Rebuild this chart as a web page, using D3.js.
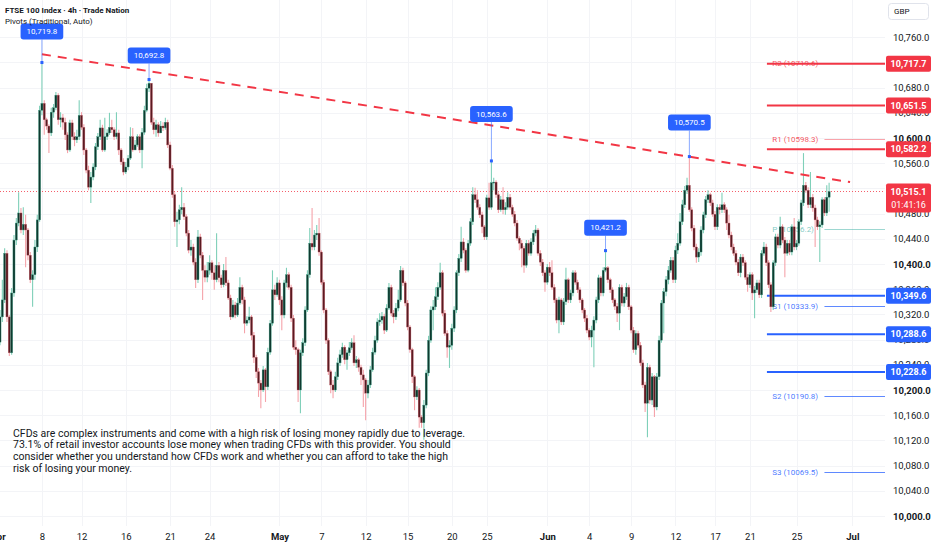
<!DOCTYPE html>
<html>
<head>
<meta charset="utf-8">
<script src="https://cdn.jsdelivr.net/npm/d3@7"></script>
<style>
  body { margin: 0; background: #fff; overflow: hidden; }
  svg { display: block; font-family: Roboto, "Noto Sans", sans-serif; }
</style>
</head>
<body>
<svg id="chart" width="932" height="550"></svg>
<script>
// FTSE 100 4h bars (CFD trades round the clock, so each bar opens where the last one closed)
var firstOpen = 10276;
var closes = [
  10316,10343,10417,10316,10259,10354,10438,10465,10481,10454,
  10463,10454,10414,10375,10383,10427,10470,10644,10655,10629,
  10619,10608,10641,10648,10668,10629,10632,10625,10605,10581,
  10624,10602,10597,10602,10636,10617,10581,10549,10522,10538,
  10554,10586,10602,10616,10581,10602,10608,10617,10613,10602,
  10608,10581,10562,10546,10554,10568,10602,10581,10589,10602,
  10581,10609,10644,10679,10687,10625,10613,10621,10608,10619,
  10616,10625,10589,10552,10510,10467,10470,10486,10490,10475,
  10449,10422,10427,10403,10375,10443,10414,10390,10379,10390,
  10402,10386,
  10375,10398,10378,10367,10390,10370,10346,10316,10335,10319,
  10338,10363,10343,10306,10311,10316,10287,10252,10229,10211,
  10200,10232,10205,10260,10306,10359,10351,10370,10343,10319,
  10370,10383,10363,10314,10268,10264,10200,10259,10275,10327,
  10383,10433,10427,10446,10449,10419,10371,10327,10279,10229,
  10208,10200,10221,10243,10256,10268,10248,10259,10267,10275,
  10243,10248,10236,10224,10216,10195,10208,10232,10260,10279,
  10308,10311,10317,10295,10330,10363,10322,10316,10330,10343,
  10390,10370,10338,10300,10264,10221,10189,10200,10157,10148,
  10176,10227,10279,10327,10332,10348,10363,
  10386,10322,10290,10268,10271,10298,10327,10386,10409,10435,
  10422,10390,10433,10467,10510,10502,10490,10478,10459,10443,
  10505,10490,10529,10530,10510,10486,10502,10486,10490,10506,
  10490,10479,10465,10441,10433,10425,10398,10433,10417,10435,
  10449,10454,10417,10403,10386,10371,10395,10386,10363,10343,
  10311,10343,10308,10340,10375,10343,10354,10386,10371,10359,
  10343,10327,10314,10295,10284,10295,10311,10343,10378,10354,
  10390,10394,10375,10359,10343,10333,10322,10363,10338,10348,
  10363,10332,10295,10264,10290,10271,10243,10208,10179,10236,
  10184,10221,10173,10221,
  10279,10338,10356,10375,10390,10406,10375,10422,10433,10467,
  10494,10517,10525,10486,10457,10427,10411,10419,10454,10478,
  10502,10510,10497,10479,10459,10490,10486,10494,10486,10465,
  10446,10427,10417,10403,10386,10411,10402,10379,10367,10383,
  10354,10359,10370,10351,10417,10427,10402,10367,10332,10402,
  10443,10430,10459,10438,10417,10433,10419,10459,10427,10433,
  10467,10497,10525,10517,10494,10506,10489,10470,10459,10462,
  10502,10481,10506,10515.1
];
var highs = [
  10327,10375,10425,10422,10319,10362,10446,10473,10514,10489,
  10490,10478,10457,10419,10390,10438,10478,10651,10719.8,10660,
  10632,10622,10648,10654,10673,10671,10641,10638,10632,10609,
  10629,10629,10609,10613,10660,10641,10622,10584,10556,10546,
  10560,10592,10608,10629,10621,10632,10614,10640,10629,10617,
  10641,10613,10584,10568,10562,10573,10617,10616,10597,10606,
  10606,10616,10651,10686,10692.8,10640,10632,10629,10625,10627,
  10625,10632,10629,10594,10557,10514,10483,10494,10522,10497,
  10479,10454,10438,10432,10409,10454,10448,10419,10398,10403,
  10414,10406,
  10398,10449,10403,10383,10400,10411,10375,10351,10343,10340,
  10346,10379,10367,10348,10317,10332,10319,10292,10256,10235,
  10216,10238,10235,10267,10311,10390,10367,10379,10375,10349,
  10375,10394,10387,10367,10319,10279,10267,10264,10282,10333,
  10390,10457,10489,10454,10462,10473,10422,10375,10330,10282,
  10232,10216,10229,10251,10264,10275,10271,10264,10276,10282,
  10287,10254,10251,10240,10232,10219,10216,10238,10267,10286,
  10314,10322,10324,10321,10336,10370,10367,10327,10338,10359,
  10397,10394,10373,10343,10303,10267,10224,10206,10203,10160,
  10184,10232,10286,10333,10343,10363,10371,
  10402,10390,10327,10295,10279,10305,10333,10390,10416,10459,
  10441,10425,10438,10473,10522,10521,10517,10495,10483,10462,
  10510,10529,10563.6,10537,10533,10514,10508,10522,10498,10514,
  10511,10494,10484,10470,10444,10438,10429,10438,10438,10441,
  10454,10462,10457,10422,10408,10390,10400,10403,10406,10368,
  10346,10348,10346,10346,10394,10378,10359,10390,10390,10375,
  10363,10346,10330,10319,10298,10302,10317,10348,10383,10381,
  10395,10421.2,10397,10378,10363,10346,10338,10368,10367,10354,
  10370,10367,10335,10300,10295,10294,10276,10248,10213,10243,
  10240,10227,10224,10227,
  10286,10343,10362,10381,10397,10411,10411,10429,10449,10481,
  10502,10524,10537,10570.5,10490,10462,10432,10425,10460,10483,
  10508,10517,10513,10502,10484,10495,10495,10513,10498,10490,
  10478,10451,10432,10422,10408,10416,10416,10406,10384,10387,
  10387,10365,10375,10375,10422,10435,10432,10406,10371,10406,
  10448,10448,10475,10463,10443,10438,10438,10463,10473,10438,
  10471,10502,10576,10530,10522,10546,10511,10494,10475,10468,
  10506,10506,10525,10529
];
var lows = [
  10271,10308,10338,10308,10254,10256,10348,10430,10460,10449,
  10446,10395,10406,10370,10332,10375,10419,10467,10636,10605,
  10613,10576,10603,10632,10644,10621,10617,10613,10597,10576,
  10578,10597,10587,10592,10597,10613,10573,10544,10517,10497,
  10533,10549,10581,10597,10578,10578,10597,10605,10608,10597,
  10598,10573,10557,10541,10543,10549,10565,10578,10581,10586,
  10576,10552,10605,10641,10673,10621,10606,10602,10602,10609,
  10611,10613,10584,10549,10505,10459,10427,10463,10479,10470,
  10444,10417,10413,10398,10362,10370,10409,10343,10371,10371,
  10383,10375,
  10359,10371,10371,10362,10363,10365,10343,10311,10314,10314,
  10316,10335,10336,10290,10302,10306,10279,10243,10219,10189,
  10171,10197,10181,10200,10256,10302,10343,10348,10335,10295,
  10314,10363,10359,10308,10264,10256,10181,10163,10254,10270,
  10324,10378,10422,10422,10438,10413,10367,10322,10273,10224,
  10195,10187,10197,10216,10238,10251,10241,10232,10254,10264,
  10238,10235,10229,10208,10173,10152,10187,10203,10229,10256,
  10275,10302,10305,10289,10292,10327,10317,10306,10311,10325,
  10340,10365,10333,10295,10259,10211,10168,10184,10140,10140,
  10121,10171,10222,10275,10295,10327,10343,
  10359,10317,10286,10251,10235,10264,10292,10322,10381,10403,
  10417,10386,10387,10429,10462,10497,10486,10473,10449,10438,
  10438,10486,10486,10517,10505,10481,10483,10479,10478,10486,
  10486,10475,10460,10437,10422,10395,10386,10394,10413,10413,
  10430,10444,10413,10397,10381,10356,10367,10381,10359,10338,
  10306,10290,10303,10303,10335,10338,10338,10349,10367,10354,
  10338,10322,10308,10290,10279,10268,10236,10306,10338,10349,
  10349,10387,10370,10354,10338,10327,10308,10295,10333,10332,
  10343,10327,10290,10259,10256,10267,10238,10203,10165,10125,
  10178,10176,10157,10168,
  10216,10275,10290,10349,10368,10386,10370,10370,10416,10429,
  10462,10489,10511,10483,10452,10422,10402,10403,10413,10449,
  10473,10497,10492,10475,10454,10454,10479,10481,10481,10454,
  10441,10422,10413,10398,10381,10379,10397,10375,10356,10362,
  10343,10314,10354,10346,10346,10413,10397,10362,10324,10327,
  10397,10425,10425,10433,10379,10413,10414,10414,10422,10422,
  10429,10462,10492,10513,10489,10489,10483,10427,10454,10403,
  10457,10476,10476,10483
];

// time axis: bar index of each label
var timeTickIdx = [-1, 18, 35, 54, 73, 90, 120, 138, 157, 175, 194, 209, 235, 253, 271, 290, 307, 322, 342, 366];
var timeTickLabel = ["Apr","8","12","16","21","24","May","7","12","15","20","25","Jun","4","9","12","17","21","25","Jul"];
var monthLabels = ["Apr","May","Jun","Jul"];

var priceTicks = [10000,10040,10080,10120,10160,10200,10240,10280,10320,10360,
                  10400,10440,10480,10520,10560,10600,10640,10680,10720,10760];

// drawn horizontal levels
var redLevels = [10717.7, 10651.5, 10582.2];
var blueLevels = [10349.6, 10288.6, 10228.6];

// pivots (traditional)
var pivotNames = ["R2","R1","P","S1","S2","S3"];
var pivotValues = [10719.6, 10598.3, 10456.2, 10333.9, 10190.8, 10069.5];
var pivotColors = ["#f23645","#f23645","#26a69a","#2962ff","#2962ff","#2962ff"];

// high callouts
var peakIdx = [18, 64, 211, 260, 296];
var peakVals = [10719.8, 10692.8, 10563.6, 10421.2, 10570.5];

// falling trendline
var trendIdx = [18, 365];
var trendVals = [10733, 10530];

var lastPrice = 10515.1;
var countdown = "01:41:16";

var disclaimer = [
  "CFDs are complex instruments and come with a high risk of losing money rapidly due to leverage.",
  "73.1% of retail investor accounts lose money when trading CFDs with this provider. You should",
  "consider whether you understand how CFDs work and whether you can afford to take the high",
  "risk of losing your money."
];

// ---------- layout ----------
var W = 932, H = 550;
var plotRight = 885, plotBottom = 526;
var levelStart = 329.3, pivotLineStart = 354, pivotLabelAt = 331.6;
var calloutGap = [23, 16, 39, 15, 26];

var svg = d3.select("#chart");
var x = d3.scaleLinear().domain([0, 380]).range([0, plotRight]);
var y = d3.scaleLinear().domain([10000, 10760]).range([516, 37.2]);
var fmt = d3.format(",.1f");

var bars = closes.map(function(c, i) {
  return { i: i, o: i ? closes[i - 1] : firstOpen, h: highs[i], l: lows[i], c: c };
});

svg.append("defs").append("clipPath").attr("id", "plotClip")
  .append("rect").attr("x", 0).attr("y", 0).attr("width", plotRight).attr("height", plotBottom);

var plot = svg.append("g").attr("clip-path", "url(#plotClip)");

// grid
plot.append("g").selectAll("line").data(priceTicks).join("line")
  .attr("x1", 0).attr("x2", plotRight)
  .attr("y1", function(d) { return Math.round(y(d)) + 0.5; })
  .attr("y2", function(d) { return Math.round(y(d)) + 0.5; })
  .attr("stroke", "#f3f4f7");
plot.append("g").selectAll("line").data(timeTickIdx).join("line")
  .attr("x1", function(d) { return Math.round(x(d)) + 0.5; })
  .attr("x2", function(d) { return Math.round(x(d)) + 0.5; })
  .attr("y1", 0).attr("y2", plotBottom)
  .attr("stroke", "#f3f4f7");

// pivots
var piv = plot.append("g");
pivotValues.forEach(function(v, k) {
  var yy = Math.round(y(v)) + 0.5;
  var faded = (k === 1 || k === 2) ? 0.45 : 0.75;
  piv.append("line").attr("x1", x(pivotLineStart)).attr("x2", plotRight)
    .attr("y1", yy).attr("y2", yy)
    .attr("stroke", pivotColors[k]).attr("stroke-opacity", faded).attr("stroke-width", 1);
  piv.append("text").attr("x", x(pivotLabelAt)).attr("y", yy).attr("dy", "0.35em")
    .attr("font-size", 8).attr("fill", pivotColors[k]).attr("fill-opacity", k === 2 ? 0.6 : 0.85)
    .text(pivotNames[k] + " (" + pivotValues[k] + ")");
});

// drawn levels
plot.append("g").selectAll("line").data(redLevels.concat(blueLevels)).join("line")
  .attr("x1", x(levelStart)).attr("x2", plotRight)
  .attr("y1", function(d) { return y(d); }).attr("y2", function(d) { return y(d); })
  .attr("stroke", function(d) { return redLevels.indexOf(d) >= 0 ? "#f23645" : "#2962ff"; })
  .attr("stroke-width", 2);

// last price dotted line
plot.append("line").attr("x1", 0).attr("x2", plotRight)
  .attr("y1", Math.round(y(lastPrice)) + 0.5).attr("y2", Math.round(y(lastPrice)) + 0.5)
  .attr("stroke", "#f23645").attr("stroke-opacity", 0.8).attr("stroke-dasharray", "1,2");

// candles
var cg = plot.append("g");
cg.selectAll("line").data(bars).join("line")
  .attr("x1", function(d) { return x(d.i); }).attr("x2", function(d) { return x(d.i); })
  .attr("y1", function(d) { return y(d.h); }).attr("y2", function(d) { return y(d.l); })
  .attr("stroke", function(d) { return d.c >= d.o ? "#7fd0b9" : "#f5a3aa"; })
  .attr("stroke-width", 1.1);
cg.selectAll("rect").data(bars).join("rect")
  .attr("x", function(d) { return x(d.i) - 1.05; })
  .attr("width", 2.1)
  .attr("y", function(d) { return y(Math.max(d.o, d.c)); })
  .attr("height", function(d) { return Math.max(1, Math.abs(y(d.o) - y(d.c))); })
  .attr("fill", function(d) { return d.c >= d.o ? "#0f3b30" : "#5a1b22"; })
  .attr("stroke", function(d) { return d.c >= d.o ? "#3f9c84" : "#c4606a"; })
  .attr("stroke-width", 0.35);

// trendline
var trend = trendIdx.map(function(t, k) { return [x(t), y(trendVals[k])]; });
plot.append("path").attr("d", d3.line()(trend))
  .attr("fill", "none").attr("stroke", "#f23645").attr("stroke-width", 2)
  .attr("stroke-dasharray", "9,7");

// high callouts
var cl = plot.append("g");
peakIdx.forEach(function(pi, k) {
  var px = x(pi), py = y(peakVals[k]);
  var bottom = py - calloutGap[k];
  cl.append("line").attr("x1", px).attr("x2", px).attr("y1", bottom).attr("y2", py)
    .attr("stroke", "#2962ff").attr("stroke-opacity", 0.55);
  cl.append("rect").attr("x", px - 1.5).attr("y", py - 1.5).attr("width", 3).attr("height", 3).attr("fill", "#2962ff");
  var box = cl.append("rect").attr("fill", "#2962ff").attr("rx", 3);
  var t = cl.append("text").attr("x", px).attr("y", bottom - 8).attr("dy", "0.35em")
    .attr("text-anchor", "middle").attr("font-size", 8).attr("fill", "#fff")
    .text(fmt(peakVals[k]));
  var w = t.node().getComputedTextLength() + 12;
  box.attr("x", px - w / 2).attr("y", bottom - 16).attr("width", w).attr("height", 16);
});

// disclaimer
svg.append("g").selectAll("text").data(disclaimer).join("text")
  .attr("x", 13).attr("y", function(d, k) { return 436.5 + k * 11.7; })
  .attr("font-size", 10.5).attr("fill", "#131722")
  .text(function(d) { return d; });

// price axis
var tagVals = redLevels.concat(blueLevels, [lastPrice]);
svg.append("rect").attr("x", plotRight).attr("y", 0).attr("width", W - plotRight).attr("height", H).attr("fill", "#fff");
var yAxis = svg.append("g").attr("transform", "translate(" + plotRight + ",0)")
  .call(d3.axisRight(y)
    .tickValues(priceTicks.filter(function(t) {
      // a tick whose label sits right under a price tag is hidden by it
      return !tagVals.some(function(v) { return Math.abs(y(v) - y(t)) < 4; });
    }))
    .tickSize(0).tickPadding(8).tickFormat(fmt));
yAxis.select(".domain").remove();
yAxis.selectAll("text").attr("font-family", "Roboto, sans-serif").attr("font-size", 9.5)
  .attr("fill", "#131722")
  .attr("font-weight", function(d) { return d % 200 === 0 ? "bold" : null; });

// level price tags
function tag(v, color) {
  svg.append("rect").attr("x", plotRight + 1).attr("y", y(v) - 8).attr("width", 45).attr("height", 16)
    .attr("rx", 2).attr("fill", color);
  svg.append("text").attr("x", plotRight + 23.5).attr("y", y(v)).attr("dy", "0.35em")
    .attr("text-anchor", "middle").attr("font-size", 9).attr("font-weight", "bold").attr("fill", "#fff")
    .text(fmt(v));
}
redLevels.forEach(function(v) { tag(v, "#f23645"); });
blueLevels.forEach(function(v) { tag(v, "#2962ff"); });

// current price tag with countdown
svg.append("rect").attr("x", plotRight + 1).attr("y", y(lastPrice) - 8).attr("width", 45).attr("height", 29)
  .attr("rx", 2).attr("fill", "#f23645");
svg.append("text").attr("x", plotRight + 23.5).attr("y", y(lastPrice)).attr("dy", "0.35em")
  .attr("text-anchor", "middle").attr("font-size", 9).attr("font-weight", "bold").attr("fill", "#fff")
  .text(fmt(lastPrice));
svg.append("text").attr("x", plotRight + 23.5).attr("y", y(lastPrice) + 13).attr("dy", "0.35em")
  .attr("text-anchor", "middle").attr("font-size", 9).attr("fill", "#fff")
  .text(countdown);

// currency box
svg.append("rect").attr("x", 888.5).attr("y", 3.5).attr("width", 40).attr("height", 16).attr("rx", 3)
  .attr("fill", "#fff").attr("stroke", "#e0e3eb");
svg.append("text").attr("x", 894).attr("y", 11.5).attr("dy", "0.35em")
  .attr("font-size", 8).attr("fill", "#131722").text("GBP");

// time axis
var xAxis = svg.append("g").attr("transform", "translate(0," + 528 + ")")
  .call(d3.axisBottom(x).tickValues(timeTickIdx).tickSize(0).tickPadding(5)
    .tickFormat(function(d, k) { return timeTickLabel[k]; }));
xAxis.select(".domain").remove();
xAxis.selectAll("text").attr("font-family", "Roboto, sans-serif").attr("font-size", 9.5)
  .attr("fill", "#131722")
  .attr("font-weight", function(d, k) { return monthLabels.indexOf(timeTickLabel[k]) >= 0 ? "bold" : null; });

// header
svg.append("text").attr("x", 5).attr("y", 13).attr("font-size", 8).attr("font-weight", "bold")
  .attr("fill", "#131722").text("FTSE 100 Index · 4h · Trade Nation");
svg.append("text").attr("x", 5).attr("y", 23.5).attr("font-size", 8)
  .attr("fill", "#131722").text("Pivots (Traditional, Auto)");
</script>
</body>
</html>
